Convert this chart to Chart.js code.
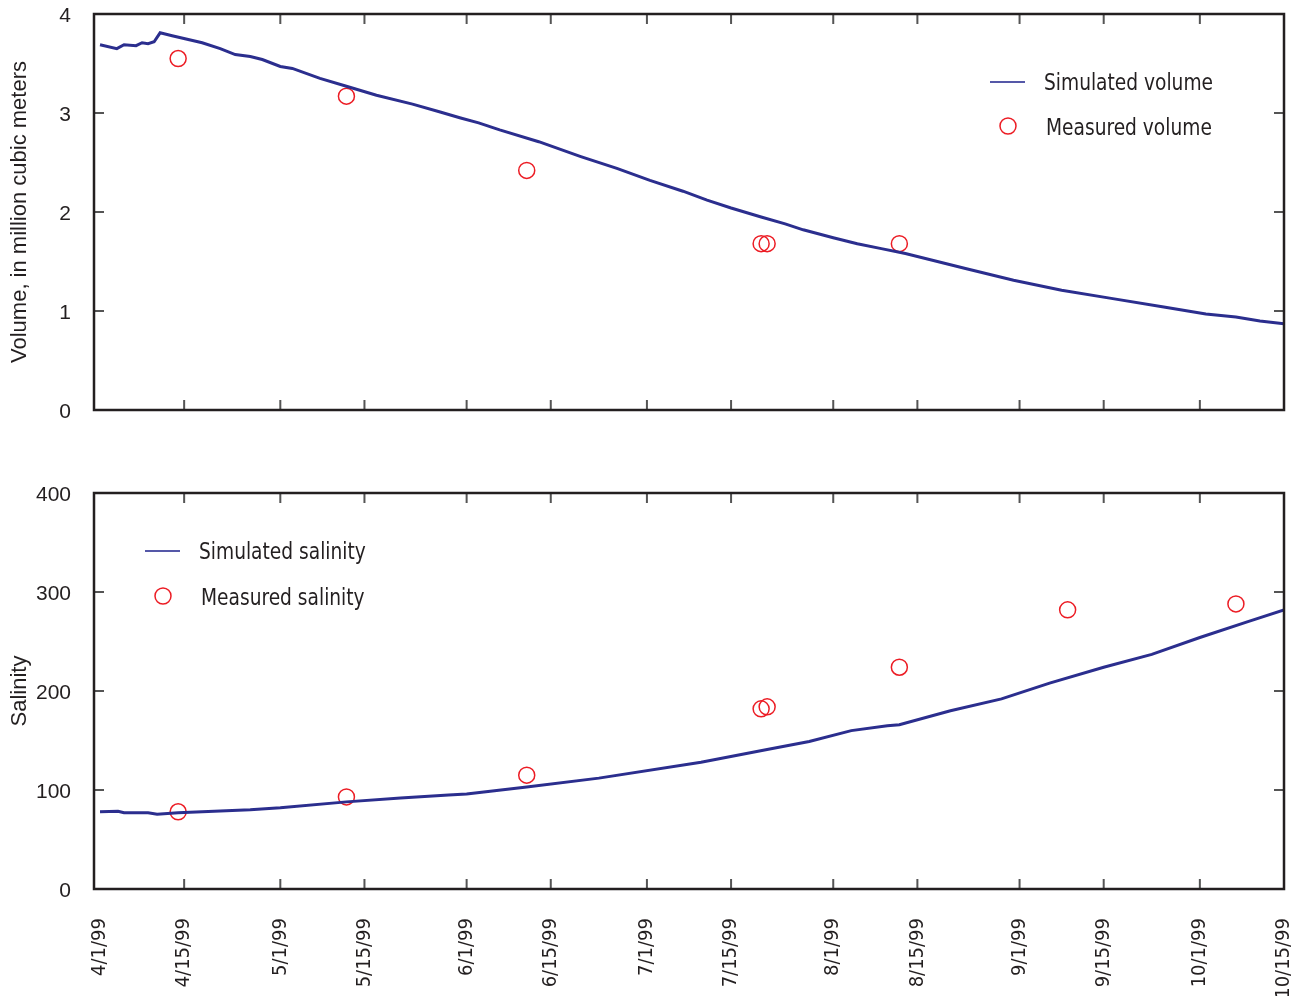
<!DOCTYPE html>
<html>
<head>
<meta charset="utf-8">
<script src="https://cdn.jsdelivr.net/npm/chart.js@4/dist/chart.umd.min.js"></script>
<style>
  body { margin: 0; background: #fff; }
  #top { position: absolute; left: 0; top: 0; width: 1306px; height: 420px; }
  #bottom { position: absolute; left: 0; top: 470px; width: 1306px; height: 526px; }
</style>
</head>
<body>
<div id="top"><canvas id="volChart"></canvas></div>
<div id="bottom"><canvas id="salChart"></canvas></div>
<script>
// dias contados desde 4/1/99
const tickDays = [0, 14, 30, 44, 61, 75, 91, 105, 122, 136, 153, 167, 183, 197]
const tickLabels = ['4/1/99', '4/15/99', '5/1/99', '5/15/99', '6/1/99', '6/15/99', '7/1/99',
  '7/15/99', '8/1/99', '8/15/99', '9/1/99', '9/15/99', '10/1/99', '10/15/99']

// volumen simulado (millones de m3)
const volSimDays = [0, 2.8, 4, 6, 7, 8, 9, 10, 12, 17, 20, 22.5, 25, 27, 30, 32, 36.6, 41, 46, 52,
  56.6, 60, 63, 66.5, 73, 80, 86, 91.5, 97, 101, 105, 110, 114, 117, 122, 126, 130, 134, 138,
  144, 152, 160, 168, 177, 184, 189, 193, 197]
const volSim = [3.69, 3.65, 3.69, 3.68, 3.71, 3.70, 3.72, 3.81, 3.78, 3.71, 3.65, 3.59, 3.57, 3.54,
  3.47, 3.45, 3.35, 3.27, 3.18, 3.09, 3.01, 2.95, 2.90, 2.83, 2.71, 2.56, 2.44, 2.32, 2.21, 2.12,
  2.04, 1.95, 1.88, 1.82, 1.74, 1.68, 1.63, 1.58, 1.52, 1.43, 1.31, 1.21, 1.13, 1.04, 0.97, 0.94,
  0.90, 0.87]

// volumen medido
const volMedDays = [13, 41, 71, 110, 111, 133]
const volMed = [3.55, 3.17, 2.42, 1.68, 1.68, 1.68]

// salinidad simulada
const salSimDays = [0, 3, 4, 8, 9.5, 13, 25, 30, 41, 50, 58, 61, 71, 83, 100, 111, 118, 125, 131,
  133, 141.5, 150, 158, 167, 175, 183, 191, 197]
const salSim = [78, 78.5, 77, 77, 75.5, 77, 80, 82, 88, 92, 95, 96, 103, 112, 128, 141, 149, 160,
  165, 166, 180, 192, 208, 224, 237, 254, 270, 282]

// salinidad medida
const salMedDays = [13, 41, 71, 110, 111, 133, 161, 189]
const salMed = [78, 93, 115, 182, 184, 224, 282, 288]

const volTicks = [0, 1, 2, 3, 4]
const salTicks = [0, 100, 200, 300, 400]

const azul = '#2b2e8e'
const rojo = '#ec1c24'
const narrow = '"Liberation Sans Narrow", "DejaVu Sans Condensed", sans-serif'
const arial = '"Liberation Sans", Arial, sans-serif'

function puntos(xs, ys) {
  return xs.map((x, i) => ({ x: x, y: ys[i] }))
}

// marco y marcas hacia adentro
const marco = {
  id: 'marco',
  afterDraw(chart, args, opts) {
    const { ctx, chartArea: a, scales } = chart
    ctx.save()
    ctx.strokeStyle = '#555'
    ctx.lineWidth = 2
    ctx.beginPath()
    tickDays.slice(1, -1).forEach(d => {
      const x = scales.x.getPixelForValue(d)
      ctx.moveTo(x, a.top); ctx.lineTo(x, a.top + 10)
      ctx.moveTo(x, a.bottom); ctx.lineTo(x, a.bottom - 10)
    })
    opts.yTicks.slice(1, -1).forEach(v => {
      const y = scales.y.getPixelForValue(v)
      ctx.moveTo(a.left, y); ctx.lineTo(a.left + 10, y)
      ctx.moveTo(a.right, y); ctx.lineTo(a.right - 10, y)
    })
    ctx.stroke()
    ctx.strokeStyle = '#231f20'
    ctx.lineWidth = 2.5
    ctx.strokeRect(a.left, a.top, a.right - a.left, a.bottom - a.top)
    ctx.restore()
  }
}

// leyenda propia
function texto(ctx, t, x, y) {
  ctx.save()
  ctx.translate(x, y)
  ctx.scale(0.9, 1)
  ctx.fillText(t, 0, 0)
  ctx.restore()
}

const leyenda = {
  id: 'leyenda',
  afterDraw(chart, args, opts) {
    const { ctx } = chart
    ctx.save()
    ctx.font = '23px ' + narrow
    ctx.fillStyle = '#231f20'
    ctx.textBaseline = 'middle'
    ctx.strokeStyle = '#5558a8'
    ctx.lineWidth = 2
    ctx.beginPath()
    ctx.moveTo(opts.x, opts.y1); ctx.lineTo(opts.x + 35, opts.y1)
    ctx.stroke()
    texto(ctx, opts.labels[0], opts.x + 54, opts.y1 + 2)
    ctx.strokeStyle = rojo
    ctx.lineWidth = 1.5
    ctx.beginPath()
    ctx.arc(opts.x + 18, opts.y2, 8, 0, Math.PI * 2)
    ctx.stroke()
    texto(ctx, opts.labels[1], opts.x + 56, opts.y2 + 3)
    ctx.restore()
  }
}

function sinPadding(s) {
  s.paddingTop = 0
  s.paddingBottom = 0
  s.paddingLeft = 0
  s.paddingRight = 0
}

function config(simX, simY, medX, medY, nombres, yMax, yTicks, titulo, mostrarX, pad, leg) {
  return {
    type: 'scatter',
    data: {
      datasets: [
        {
          label: nombres[0],
          data: puntos(simX, simY),
          showLine: true,
          borderColor: azul,
          borderWidth: 3,
          pointRadius: 0,
          tension: 0
        },
        {
          label: nombres[1],
          data: puntos(medX, medY),
          borderColor: rojo,
          backgroundColor: 'rgba(0,0,0,0)',
          borderWidth: 1.5,
          pointRadius: 8
        }
      ]
    },
    options: {
      responsive: true,
      maintainAspectRatio: false,
      animation: false,
      layout: { padding: pad },
      plugins: {
        legend: { display: false },
        tooltip: { enabled: false },
        marco: { yTicks: yTicks },
        leyenda: leg
      },
      scales: {
        x: {
          type: 'linear',
          min: -1,
          max: 197,
          display: mostrarX,
          grid: { display: false, drawTicks: false },
          border: { display: false },
          afterBuildTicks: s => { s.ticks = tickDays.map(v => ({ value: v })) },
          afterFit: s => {
            sinPadding(s)
            if (mostrarX) s.height = 107
          },
          ticks: {
            autoSkip: false,
            minRotation: 90,
            maxRotation: 90,
            padding: 29,
            color: '#231f20',
            font: { family: narrow, size: 20 },
            callback: v => tickLabels[tickDays.indexOf(v)]
          }
        },
        y: {
          min: 0,
          max: yMax,
          grid: { display: false, drawTicks: false },
          border: { display: false },
          afterBuildTicks: s => { s.ticks = yTicks.map(v => ({ value: v })) },
          afterFit: s => {
            sinPadding(s)
            s.width = 94
          },
          ticks: {
            padding: 23,
            labelOffset: 2,
            color: '#231f20',
            font: { family: arial, size: 21 }
          },
          title: {
            display: true,
            text: titulo,
            color: '#231f20',
            padding: { top: 7, bottom: 0 },
            font: { family: arial, size: 22 }
          }
        }
      }
    },
    plugins: [marco, leyenda]
  }
}

new Chart(document.querySelector('#volChart'),
  config(volSimDays, volSim, volMedDays, volMed, ['Simulated volume', 'Measured volume'], 4, volTicks,
    'Volume, in million cubic meters', false, { top: 14, right: 22, bottom: 10, left: 0 },
    { x: 990, y1: 82, y2: 126, labels: ['Simulated volume', 'Measured volume'] }))

new Chart(document.querySelector('#salChart'),
  config(salSimDays, salSim, salMedDays, salMed, ['Simulated salinity', 'Measured salinity'], 400, salTicks,
    'Salinity', true, { top: 23, right: 22, bottom: 0, left: 0 },
    { x: 145, y1: 81, y2: 126, labels: ['Simulated salinity', 'Measured salinity'] }))
</script>
</body>
</html>
